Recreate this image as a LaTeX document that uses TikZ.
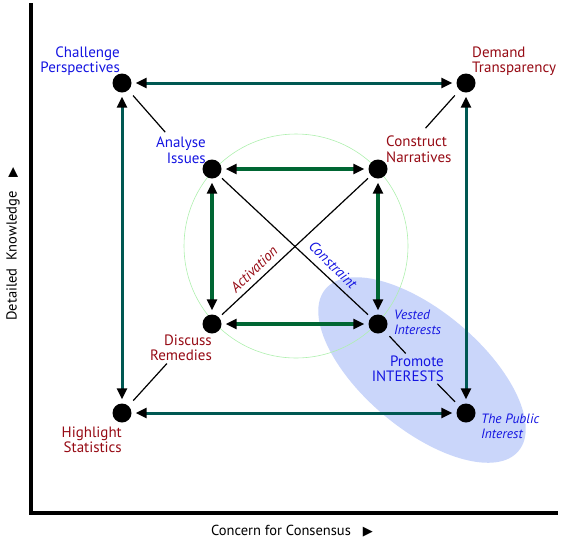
\documentclass[tikz,border=0pt]{standalone}
\usepackage{fontspec}
\setmainfont{PT Sans}
\newfontfamily\symfont{DejaVu Sans}
\usepackage{tikz}
\usetikzlibrary{arrows.meta,positioning,shapes.geometric}

\definecolor{outerteal}{RGB}{0,88,82}
\definecolor{innergreen}{RGB}{0,102,51}
\definecolor{labelblue}{RGB}{20,20,225}
\definecolor{labelred}{RGB}{150,10,20}
\definecolor{zoneblue}{RGB}{202,214,250}
\definecolor{ringgreen}{RGB}{175,240,175}

\begin{document}
\begin{tikzpicture}[
    x=1pt, y=-1pt,
    font=\fontsize{15}{15.5}\selectfont,
    blacktri/.tip={Triangle[length=11pt,width=10pt,color=black]},
    dot/.style={
        circle,
        fill=black,
        minimum size=19pt,
        inner sep=0pt
    },
    bluelbl/.style={
        text=labelblue,
        inner sep=0pt
    },
    redlbl/.style={
        text=labelred,
        inner sep=0pt
    },
    smalllbl/.style={
        text=labelblue,
        inner sep=0pt,
        font=\fontsize{13.5}{15}\selectfont\itshape
    },
    outerarr/.style={blacktri-blacktri, line width=3pt, draw=outerteal,
        shorten <=4pt, shorten >=4pt},
    innerarr/.style={blacktri-blacktri, line width=3.6pt, draw=innergreen,
        shorten <=4pt, shorten >=4pt},
    lead/.style={draw=black, line width=1.2pt},
    axislbl/.style={font=\fontsize{14.5}{16}\selectfont, inner sep=0pt}
]
\useasboundingbox (0,0) rectangle (564,542);

% shaded zone and ring
\node[ellipse, fill=zoneblue, minimum width=252pt, minimum height=118pt,
    rotate=-40] (zone) at (422,370) {};
\node[circle, draw=ringgreen, line width=0.6pt, minimum size=224pt,
    inner sep=0pt] (ring) at (296,246) {};

% axes
\coordinate (ytop) at (31,3);
\coordinate (origin) at (31,513);
\coordinate (xend) at (558,513);
\draw[line width=4pt] (ytop) -- (origin) -- (xend);

\node[axislbl, rotate=90] (ylbl) at (13,244)
    {Detailed\ \ Knowledge\hspace{14pt}{\symfont\fontsize{13}{13}\selectfont ▶}};
\node[axislbl] (xlbl) at (292,531)
    {Concern for Consensus\hspace{12pt}{\symfont\fontsize{13}{13}\selectfont ▶}};

% outer square
\node[dot] (cp) at (122,83) {};
\node[dot] (dt) at (466,83) {};
\node[dot] (hs) at (122,413) {};
\node[dot] (pi) at (466,413) {};

% inner square
\node[dot] (ai) at (212,169) {};
\node[dot] (cn) at (378,169) {};
\node[dot] (dr) at (212,324) {};
\node[dot] (vi) at (378,324) {};

% labels
\node[bluelbl, anchor=east, align=right] (cplbl) at (120,61) {Challenge\\Perspectives};
\node[redlbl, anchor=west, align=left] (dtlbl) at (472,61) {Demand\\Transparency};
\node[bluelbl, anchor=east, align=right] (ailbl) at (206,150) {Analyse\\Issues};
\node[redlbl, anchor=west, align=left] (cnlbl) at (386,149) {Construct\\Narratives};
\node[redlbl, anchor=east, align=right] (drlbl) at (212,348) {Discuss\\Remedies};
\node[redlbl, anchor=east, align=right] (hslbl) at (122,440) {Highlight\\Statistics};
\node[smalllbl, anchor=west, align=left] (vilbl) at (394,322) {Vested\\Interests};
\node[bluelbl, anchor=east, align=right] (prlbl) at (444,369) {Promote\\INTERESTS};
\node[smalllbl, anchor=west, align=left] (pilbl) at (481,426) {The Public\\Interest};

% outer arrows
\draw[outerarr] (cp) -- (dt);
\draw[outerarr] (hs) -- (pi);
\draw[outerarr] (cp) -- (hs);
\draw[outerarr] (dt) -- (pi);

% inner arrows
\draw[innerarr] (ai) -- (cn);
\draw[innerarr] (dr) -- (vi);
\draw[innerarr] (ai) -- (dr);
\draw[innerarr] (cn) -- (vi);

% diagonals
\draw[lead, shorten <=4pt, shorten >=4pt] (ai) -- (vi);
\draw[lead, shorten <=4pt, shorten >=4pt] (dr) -- (cn);
\node[text=labelred, font=\fontsize{14.5}{14.5}\selectfont\itshape, rotate=44]
    (act) at (254,269) {Activation};
\node[text=labelblue, font=\fontsize{14.5}{14.5}\selectfont\itshape, rotate=-44]
    (con) at (333,265) {Constraint};

% leader lines
\draw[lead, shorten <=7pt, shorten >=6pt] (cp) -- (ailbl);
\draw[lead, shorten <=7pt, shorten >=10pt] (dt) -- (cnlbl.north);
\draw[lead, shorten <=7pt, shorten >=3pt] (hs) -- (drlbl);
\draw[lead, shorten <=7pt, shorten >=3pt] (vi) -- (prlbl.north);
\draw[lead, shorten <=2pt, shorten >=6pt] ([xshift=-8pt]prlbl.south east) -- (pi);

\end{tikzpicture}
\end{document}
